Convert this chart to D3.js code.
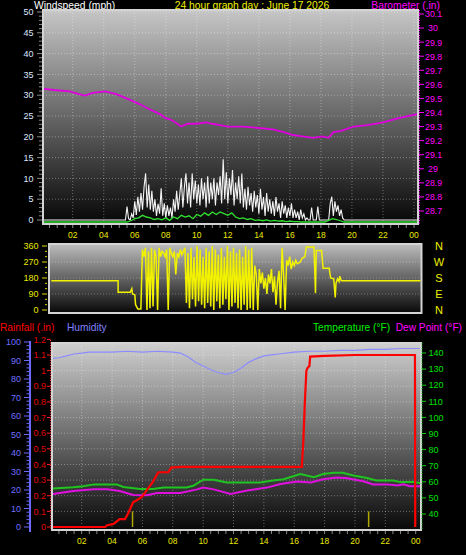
<!DOCTYPE html>
<html><head><meta charset="utf-8">
<script src="https://cdn.jsdelivr.net/npm/d3@7"></script>
<style>body{margin:0;background:#000;}svg{display:block;}</style>
</head><body>
<svg id="c" width="466" height="555"></svg>
<script>
// ---------- DATA ----------
const hourTickValues = [2,4,6,8,10,12,14,16,18,20,22,24];
const hourTickLabels = ["02","04","06","08","10","12","14","16","18","20","22","00"];
const windTicks = [0,5,10,15,20,25,30,35,40,45,50];
const baroTicks = [28.7,28.8,28.9,29,29.1,29.2,29.3,29.4,29.5,29.6,29.7,29.8,29.9,30,30.1];
const dirTicks = [0,90,180,270,360];
const compassLabels = ["N","W","S","E","N"];
const humTicks = [0,10,20,30,40,50,60,70,80,90,100];
const rainTicks = [0,0.1,0.2,0.3,0.4,0.5,0.6,0.7,0.8,0.9,1,1.1,1.2];
const tempTicks = [40,50,60,70,80,90,100,110,120,130,140];

// barometer (inHg)
const baroHours  = [0,0.8,1.8,2.4,2.8,3.3,4.1,4.8,5.7,6.3,7.0,7.6,8.0,8.3,8.6,9.0,9.4,10.0,10.6,11.0,11.5,12.0,13.0,14.0,14.9,15.6,16.2,16.8,17.5,18.1,18.5,18.8,19.3,20.1,21.0,22.0,23.0,24.3];
const baroValues = [29.57,29.56,29.55,29.53,29.52,29.54,29.55,29.53,29.49,29.46,29.42,29.39,29.36,29.35,29.33,29.30,29.32,29.32,29.33,29.32,29.31,29.30,29.30,29.29,29.28,29.26,29.24,29.23,29.22,29.23,29.22,29.26,29.27,29.30,29.31,29.33,29.36,29.39];

// wind gust (mph), sampled every 0.1 h from 5.0 h
const gustStart = 5.0, gustStep = 0.1;
const gustValues = [
 0,0,0,0,0,3.2,0.3,0,1.5,0.5,
 4.5,1.2,5.6,2,6.5,2.5,8,11.2,3,8.5,
 2.5,7,2,5,1,3.9,1.5,7.6,1,4,
 0.5,3.5,1,3,0.5,5,2,7,2.5,6,
 10,3,8,11.2,4,9,3,11.2,5,9.5,
 4,8.5,3.5,10,5,9,3,10.5,4,9,
 5,10,3.5,9,6,10.5,4,14.6,5,11.5,
 4,10,6,12,3.5,9,5,10.5,4,11.2,
 3,7.5,2.5,8,3.5,6.5,2,7,3,6,
 1.5,7.5,2.5,5.5,1,6.5,2,5,1.5,4.5,
 1,5.5,2,4,0.5,4.5,1.5,3.5,0.5,3,
 1,4,0.5,2.5,0.5,2,0,2.5,0.5,1.5,
 0,0.5,0,0,3,0,0,0,3.2,0,
 0,0,0,0,0,0,4,5.6,1,4.5,
 2,3.5,1,2.5,0.5,0,0,0,0,0];
const calmHours = [0, 24.3];
// average wind (mph), every 0.25 h from 5.5 h
const avgStart = 5.5, avgStep = 0.25;
const avgValues = [
 0,0.3,0.8,1.0, 1.6,1.2,1.0,0.6, 0.8,0.5,1.0,0.4, 1.2,0.8,1.6,1.2,
 1.5,0.8,1.8,1.4, 2.2,1.6,2.4,1.8, 2.4,2.0,1.6,2.2, 1.2,0.8,1.0,0.6,
 0.8,0.4,0.5,0.3, 0.5,0.2,0.4,0.2, 0.3,0.1,0.2,0.1, 0.1,0,0,0,
 0,0,0,0, 0.4,0.8,0.6,0.3, 0];

// wind direction (deg)
const dirHoursA  = [0,4.4,4.4,5.2,5.3,5.35,5.5,5.55,5.7,5.9];
const dirValuesA = [165,165,100,100,120,90,85,30,5,5];
const dirStart = 6.0, dirStep = 0.1;
const dirValuesB = [
 340,300,350,0,330,10,350,20,340,300,
 0,350,300,330,320,300,340,0,350,320,
 300,330,200,320,300,340,310,330,350,40,
 320,10,350,60,300,20,360,50,340,30,
 300,10,350,40,330,20,360,0,340,50,
 310,10,350,30,300,60,360,0,330,20,
 350,40,320,10,340,0,300,30,360,0,
 340,10,350,0,250,200,0,230,150,210,
 120,180,90,200,150,230,100,190,30,160,
 220,10,350,200,0,280,250,300,230,270,
 250,280];
const dirHoursC  = [16.2,16.4,16.5,16.7,16.8,17.3,17.4,17.45,17.8,17.9,18.3,18.4,18.6,18.7,18.75,18.85,18.95,19.0,19.1,24.4];
const dirValuesC = [260,270,290,300,355,355,95,335,335,235,235,180,175,70,150,175,160,190,165,165];

// humidity (%)
const humHours  = [0,0.5,1,1.5,2,2.5,3,4,5,6,7,8,8.5,9,9.5,10,10.5,11,11.5,12,12.5,13,13.5,14,14.5,15,16,17,18,19,20,21,22,23,24.3];
const humValues = [91,91.5,92.5,93.5,94,94.5,94.5,94.5,95,94.5,95,94.5,94,92,89,87,85,83.5,82.5,83.5,86,89,91,92.5,93,93.5,94.5,95,95,95.5,95.5,96,96,96.5,96.5];

// rainfall (in)
const rainHours  = [0,3.55,3.65,4.1,4.5,4.85,5.07,5.4,5.6,5.95,6.4,6.7,7.05,7.7,7.9,8.5,16.5,16.6,16.7,16.8,16.9,17.0,17.05,18.0,20.0,23.95,23.97];
const rainValues = [0,0,0.01,0.02,0.05,0.05,0.09,0.16,0.17,0.19,0.25,0.29,0.35,0.35,0.38,0.385,0.385,0.55,0.8,1.0,1.02,1.03,1.09,1.095,1.10,1.10,0];
const rateHours  = [5.35,20.9];
const rateValues = [0.1,0.1];

// temperature / dew point (°F)
const tempHours  = [0,1.45,2.1,2.8,4.3,4.75,5.85,6.7,7.4,8.9,9.35,10.0,10.7,11.55,13.75,14.6,15.3,16.4,17.3,17.9,18.6,19.2,19.9,20.8,21.4,22.5,23.0,23.85,24.3];
const tempValues = [55.8,56.6,57.2,58.4,58.4,56.8,55.5,55.5,56.5,56.5,57.5,61.3,61.3,59.6,59.6,60.8,61.6,64.8,62.9,64.8,65.6,65.6,63.9,62.3,60.8,60.8,59.8,59.8,59.3];
const dewHours   = [0,1.45,2.8,3.7,4.5,5.4,6.3,6.95,8.5,9.6,10.0,10.7,11.8,12.9,14.2,15.1,16.2,17.1,17.9,18.8,19.5,20.6,21.2,22.1,22.8,23.2,23.6,24.3];
const dewValues  = [52.2,54.3,55.3,55.3,54.3,51.8,51.6,53.1,53.1,55.3,56.4,55.3,52.4,54.6,56.4,58.6,60.2,59.6,61.6,62.6,62.2,60.2,58.4,58.4,57.7,58.4,57.3,57.3];

// ---------- DRAW ----------
const svg = d3.select("#c");
const FONT = "'Liberation Sans', Arial, sans-serif";
const defs = svg.append("defs");
function grad(id, top, bottom){
  const g = defs.append("linearGradient").attr("id",id).attr("x1",0).attr("y1",0).attr("x2",0).attr("y2",1);
  g.append("stop").attr("offset","0%").attr("stop-color",top);
  g.append("stop").attr("offset","100%").attr("stop-color",bottom);
}
grad("gTop","#c6c6c6","#060606");
grad("gDir","#bdbdbd","#080808");
grad("gBot","#cfcfcf","#080808");
function clip(id,x,y,w,h){ defs.append("clipPath").attr("id",id).append("rect").attr("x",x).attr("y",y).attr("width",w).attr("height",h); }

function text(x,y,s,color,size,anchor){
  return svg.append("text").attr("x",x).attr("y",y).text(s).attr("fill",color)
    .attr("font-family",FONT).attr("font-size",size).attr("text-anchor",anchor||"start");
}

// titles
text(34,8.5,"Windspeed (mph)","#ffffff",10.3);
text(252,8.5,"24 hour graph day : June 17 2026","#f0f000",10.3,"middle");
text(440,8.5,"Barometer (.in)","#ff00ff",10.3,"end");

// ===== TOP PANEL =====
const T = {x0:43,x1:418,y0:10,y1:224};
const xTop = d3.scaleLinear().domain([0,24]).range([41.7,414]);
const yWind = d3.scaleLinear().domain([0,50]).range([220,12]);
const yBaro = d3.scaleLinear().domain([28.7,30.1]).range([211,14]);
svg.append("rect").attr("x",T.x0).attr("y",T.y0).attr("width",T.x1-T.x0).attr("height",T.y1-T.y0)
  .attr("fill","url(#gTop)").attr("stroke","#d4d4d4").attr("stroke-width",2);
clip("cTop",T.x0+1,T.y0+1,T.x1-T.x0-2,T.y1-T.y0-2);
const gTop = svg.append("g").attr("clip-path","url(#cTop)");
// grid
gTop.selectAll(".hg").data(windTicks.slice(1)).join("line")
  .attr("x1",T.x0).attr("x2",T.x1).attr("y1",d=>yWind(d)).attr("y2",d=>yWind(d))
  .attr("stroke","rgba(255,255,255,0.35)").attr("stroke-dasharray","1,2");
gTop.selectAll(".vg").data(hourTickValues).join("line")
  .attr("x1",d=>xTop(d)).attr("x2",d=>xTop(d)).attr("y1",T.y0).attr("y2",T.y1)
  .attr("stroke","rgba(255,255,255,0.35)").attr("stroke-dasharray","1,2");
// barometer
gTop.append("path").datum(baroHours.map((h,i)=>[h,baroValues[i]]))
  .attr("d",d3.line().x(d=>xTop(d[0])).y(d=>yBaro(d[1])))
  .attr("fill","none").attr("stroke","#e000e0").attr("stroke-width",1.8);
// gusts
const gustPts = [[calmHours[0],0]].concat(gustValues.map((v,i)=>[gustStart+i*gustStep,v])).concat([[calmHours[1],0]]);
gTop.append("path").datum(gustPts)
  .attr("d",d3.line().x(d=>xTop(d[0])).y(d=>yWind(d[1])))
  .attr("fill","none").attr("stroke","#f4f4f4").attr("stroke-width",1.1);
// avg wind
const avgPts = [[calmHours[0],0]].concat(avgValues.map((v,i)=>[avgStart+i*avgStep,v])).concat([[calmHours[1],0]]);
gTop.append("path").datum(avgPts)
  .attr("d",d3.line().x(d=>xTop(d[0])).y(d=>yWind(d[1])+2))
  .attr("fill","none").attr("stroke","#30e030").attr("stroke-width",1.3);
// left axis ticks
svg.selectAll(".wt").data(d3.range(0,51,1)).join("line")
  .attr("x1",d=>d%5===0?37:39).attr("x2",T.x0-1).attr("y1",d=>yWind(d)).attr("y2",d=>yWind(d))
  .attr("stroke","#8a8a8a").attr("stroke-width",1);
svg.selectAll(".wl").data(windTicks).join("text")
  .attr("x",33.5).attr("y",d=>yWind(d)+3.2).text(d=>d).attr("fill","#dce6ff")
  .attr("font-family",FONT).attr("font-size",9).attr("text-anchor","end");
// right axis
svg.append("line").attr("x1",T.x1+1.5).attr("x2",T.x1+1.5).attr("y1",T.y0).attr("y2",T.y1)
  .attr("stroke","#ff00ff").attr("stroke-dasharray","1,1.5");
svg.selectAll(".bt").data(baroTicks).join("line")
  .attr("x1",T.x1+1).attr("x2",T.x1+6).attr("y1",d=>yBaro(d)).attr("y2",d=>yBaro(d))
  .attr("stroke","#ff00ff");
svg.selectAll(".bl").data(baroTicks).join("text")
  .attr("x",d=>(d===30||d===29)?428:425).attr("y",d=>yBaro(d)+3.4).text(d=>d).attr("fill","#ff00ff")
  .attr("font-family",FONT).attr("font-size",8.8);
// x axis
svg.selectAll(".xt").data(d3.range(0.5,24.01,0.5)).join("line")
  .attr("x1",d=>xTop(d)).attr("x2",d=>xTop(d)).attr("y1",T.y1+1).attr("y2",T.y1+4)
  .attr("stroke","#8a8a8a");
svg.selectAll(".xl").data(hourTickValues).join("text")
  .attr("x",d=>xTop(d)).attr("y",237.5).text((d,i)=>hourTickLabels[i]).attr("fill","#e8e800")
  .attr("font-family",FONT).attr("font-size",8.5).attr("text-anchor","middle");

// ===== WIND DIRECTION PANEL =====
const D = {x0:49,x1:421.5,y0:244,y1:313};
const xDir = d3.scaleLinear().domain([0,24]).range([51.3,415.7]);
const yDir = d3.scaleLinear().domain([0,360]).range([310,246]);
svg.append("rect").attr("x",D.x0).attr("y",D.y0).attr("width",D.x1-D.x0).attr("height",D.y1-D.y0)
  .attr("fill","url(#gDir)").attr("stroke","#d4d4d4").attr("stroke-width",2);
clip("cDir",D.x0+1,D.y0+1,D.x1-D.x0-2,D.y1-D.y0-2);
const gDir = svg.append("g").attr("clip-path","url(#cDir)");
gDir.selectAll("line").data(dirTicks.slice(1,4)).join("line")
  .attr("x1",D.x0).attr("x2",D.x1).attr("y1",d=>yDir(d)).attr("y2",d=>yDir(d))
  .attr("stroke","rgba(255,255,255,0.3)").attr("stroke-dasharray","1,2");
const dirPts = dirHoursA.map((h,i)=>[h,dirValuesA[i]])
  .concat(dirValuesB.map((v,i)=>[dirStart+i*dirStep,v]))
  .concat(dirHoursC.map((h,i)=>[h,dirValuesC[i]]));
gDir.append("path").datum(dirPts)
  .attr("d",d3.line().x(d=>xDir(d[0])).y(d=>yDir(d[1])))
  .attr("fill","none").attr("stroke","#f2f200").attr("stroke-width",1.5);
svg.selectAll(".dt").data(d3.range(0,361,30)).join("line")
  .attr("x1",d=>d%90===0?42:45).attr("x2",47).attr("y1",d=>yDir(d)).attr("y2",d=>yDir(d))
  .attr("stroke","#d8d800");
svg.selectAll(".dl").data(dirTicks).join("text")
  .attr("x",38.5).attr("y",d=>yDir(d)+3.2).text(d=>d).attr("fill","#e8e800")
  .attr("font-family",FONT).attr("font-size",9).attr("text-anchor","end");
svg.selectAll(".cl").data(compassLabels).join("text")
  .attr("x",439).attr("y",(d,i)=>yDir(dirTicks[4-i])+4).text(d=>d).attr("fill","#f0f000")
  .attr("font-family",FONT).attr("font-size",11).attr("text-anchor","middle");

// ===== BOTTOM PANEL =====
text(0,330.5,"Rainfall (.in)","#ff0000",10.2);
text(67,330.5,"Humidity","#8080ff",10.2);
text(313,330.5,"Temperature (°F)","#00ee00",10.2);
text(462,330.5,"Dew Point (°F)","#ff00ff",10.2,"end");

const B = {x0:52,x1:421,y0:343,y1:530};
const xBot = d3.scaleLinear().domain([0,24]).range([51.3,415.7]);
const yHum = d3.scaleLinear().domain([0,100]).range([527,342]);
const yRain = d3.scaleLinear().domain([0,1.1]).range([527,355]);
const yTemp = d3.scaleLinear().domain([40,140]).range([514,353]);
svg.append("rect").attr("x",B.x0).attr("y",B.y0).attr("width",B.x1-B.x0).attr("height",B.y1-B.y0)
  .attr("fill","url(#gBot)").attr("stroke","#d4d4d4").attr("stroke-width",2);
clip("cBot",B.x0+1,B.y0+1,B.x1-B.x0-2,B.y1-B.y0-1);
const gB = svg.append("g").attr("clip-path","url(#cBot)");
gB.selectAll(".hg").data(rainTicks.slice(1)).join("line")
  .attr("x1",B.x0).attr("x2",B.x1).attr("y1",d=>yRain(d)).attr("y2",d=>yRain(d))
  .attr("stroke","rgba(255,255,255,0.35)").attr("stroke-dasharray","1,2");
gB.selectAll(".vg").data(hourTickValues.slice(0,11)).join("line")
  .attr("x1",d=>xBot(d)).attr("x2",d=>xBot(d)).attr("y1",B.y0).attr("y2",B.y1)
  .attr("stroke","rgba(255,255,255,0.35)").attr("stroke-dasharray","1,2");
// rate bars
gB.selectAll(".rb").data(rateHours).join("line")
  .attr("x1",d=>xBot(d)).attr("x2",d=>xBot(d)).attr("y1",yRain(0)).attr("y2",(d,i)=>yRain(rateValues[i]))
  .attr("stroke","#b0a800").attr("stroke-width",1.5);
// humidity
gB.append("path").datum(humHours.map((h,i)=>[h,humValues[i]]))
  .attr("d",d3.line().x(d=>xBot(d[0])).y(d=>yHum(d[1])))
  .attr("fill","none").attr("stroke","#8c8cff").attr("stroke-width",1.2);
// temperature and dew point
gB.append("path").datum(tempHours.map((h,i)=>[h,tempValues[i]]))
  .attr("d",d3.line().x(d=>xBot(d[0])).y(d=>yTemp(d[1])))
  .attr("fill","none").attr("stroke","#20c420").attr("stroke-width",2);
gB.append("path").datum(dewHours.map((h,i)=>[h,dewValues[i]]))
  .attr("d",d3.line().x(d=>xBot(d[0])).y(d=>yTemp(d[1])))
  .attr("fill","none").attr("stroke","#e010e0").attr("stroke-width",2);
// rain
gB.append("path").datum(rainHours.map((h,i)=>[h,rainValues[i]]))
  .attr("d",d3.line().x(d=>xBot(d[0])).y(d=>yRain(d[1])))
  .attr("fill","none").attr("stroke","#ff0000").attr("stroke-width",2.2);

// humidity axis
svg.append("line").attr("x1",30).attr("x2",30).attr("y1",yHum(100)-1).attr("y2",yHum(0)+5)
  .attr("stroke","#6a6aff").attr("stroke-width",2);
svg.selectAll(".ht").data(d3.range(0,101,2)).join("line")
  .attr("x1",d=>d%10===0?24:26.5).attr("x2",29).attr("y1",d=>yHum(d)).attr("y2",d=>yHum(d))
  .attr("stroke","#6a6aff");
svg.selectAll(".hl").data(humTicks).join("text")
  .attr("x",21).attr("y",d=>yHum(d)+3.2).text(d=>d).attr("fill","#7070ff")
  .attr("font-family",FONT).attr("font-size",9).attr("text-anchor","end");
// rain axis
svg.append("line").attr("x1",50.5).attr("x2",50.5).attr("y1",B.y0-3).attr("y2",B.y1)
  .attr("stroke","#ff3030").attr("stroke-dasharray","1,1.5");
svg.selectAll(".rt").data(rainTicks).join("line")
  .attr("x1",47).attr("x2",50.5).attr("y1",d=>yRain(d)).attr("y2",d=>yRain(d))
  .attr("stroke","#ff2020");
svg.selectAll(".rl").data(rainTicks).join("text")
  .attr("x",46).attr("y",d=>yRain(d)+3.2).text(d=>d3.format("")(+d.toFixed(1))).attr("fill","#e00000")
  .attr("font-family",FONT).attr("font-size",9).attr("text-anchor","end");
// temperature axis
svg.append("line").attr("x1",422).attr("x2",422).attr("y1",B.y0).attr("y2",B.y1)
  .attr("stroke","#10d010").attr("stroke-dasharray","1,1.5");
svg.selectAll(".tt").data(tempTicks).join("line")
  .attr("x1",422).attr("x2",426).attr("y1",d=>yTemp(d)).attr("y2",d=>yTemp(d))
  .attr("stroke","#10d010");
svg.selectAll(".tl").data(tempTicks).join("text")
  .attr("x",428.5).attr("y",d=>yTemp(d)+3.2).text(d=>d).attr("fill","#00e000")
  .attr("font-family",FONT).attr("font-size",9);
// x axis
svg.selectAll(".bxt").data(d3.range(0.5,24.01,0.5)).join("line")
  .attr("x1",d=>xBot(d)).attr("x2",d=>xBot(d)).attr("y1",B.y1+1).attr("y2",B.y1+4)
  .attr("stroke","#8a8a8a");
svg.selectAll(".bxl").data(hourTickValues).join("text")
  .attr("x",d=>xBot(d)).attr("y",543.5).text((d,i)=>hourTickLabels[i]).attr("fill","#e8e800")
  .attr("font-family",FONT).attr("font-size",8.5).attr("text-anchor","middle");
</script>
</body></html>
